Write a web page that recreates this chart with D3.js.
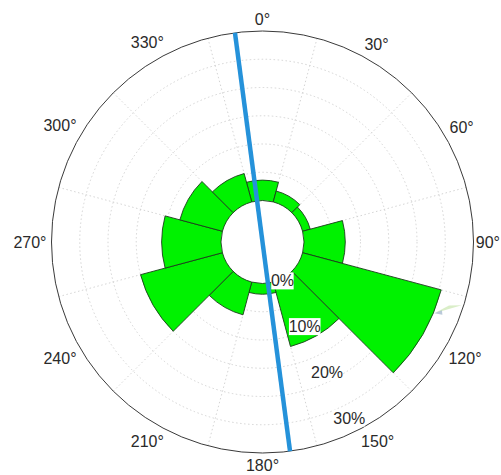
<!DOCTYPE html>
<html>
<head>
<meta charset="utf-8">
<script src="https://cdn.jsdelivr.net/npm/d3@7"></script>
<style>
  html, body { margin: 0; padding: 0; background: #fff; }
  svg { display: block; }
  text { font-family: "Liberation Sans", Arial, Helvetica, sans-serif; }
</style>
</head>
<body>
<div id="chart"></div>
<script>
// ---- data ----
const directions = [0, 30, 60, 90, 120, 150, 180, 210, 240, 270, 300, 330]; // bin centres (deg)
const frequency  = [3.6, 2.0, 1.4, 7.3, 25.4, 11.8, 1.9, 6.0, 15.0, 10.5, 7.8, 5.2]; // percent
const binWidth = 30;
const angleTicks = [0, 30, 60, 90, 120, 150, 180, 210, 240, 270, 300, 330];
const angleTickLabels = ["0°", "30°", "60°", "90°", "120°", "150°", "180°", "210°", "240°", "270°", "300°", "330°"];
const ringValues = [0, 5, 10, 15, 20, 25, 30];
const ringLabelValues = [0, 10, 20, 30];
const ringLabels = ["0%", "10%", "20%", "30%"];
const spokeAngles = [15, 45, 75, 105, 135, 165, 195, 225, 255, 285, 315, 345];
const trendAxis = 352.5; // blue line direction (deg)

// ---- layout ----
const W = 501, H = 475;
const cx = 262.5, cy = 242;
const R = 211, r0 = 41.5;
const rLabelAngle = 154;

const svg = d3.select("#chart").append("svg").attr("width", W).attr("height", H);
const g = svg.append("g").attr("transform", `translate(${cx},${cy})`);

const r = d3.scaleLinear().domain([0, 30]).range([r0, R]);
const rad = d => d * Math.PI / 180;
const pt = (deg, rr) => [rr * Math.sin(rad(deg)), -rr * Math.cos(rad(deg))];

// grid rings (dotted)
g.append("g").selectAll("circle").data(ringValues.filter(v => v > 0 && v < 30)).join("circle")
  .attr("r", d => r(d)).attr("fill", "none")
  .attr("stroke", "#cfcfcf").attr("stroke-width", 0.9).attr("stroke-dasharray", "1.5,2.5");

// spokes (dotted)
g.append("g").selectAll("line").data(spokeAngles).join("line")
  .attr("x1", d => pt(d, r0)[0]).attr("y1", d => pt(d, r0)[1])
  .attr("x2", d => pt(d, R)[0]).attr("y2", d => pt(d, R)[1])
  .attr("stroke", "#cfcfcf").attr("stroke-width", 0.9).attr("stroke-dasharray", "1.5,2.5");

// wedges
const arc = d3.arc()
  .innerRadius(r0)
  .outerRadius(d => r(d.v))
  .startAngle(d => rad(d.a - binWidth / 2))
  .endAngle(d => rad(d.a + binWidth / 2));
g.append("g").selectAll("path")
  .data(directions.map((a, i) => ({ a, v: frequency[i] })))
  .join("path")
  .attr("d", arc)
  .attr("fill", "#00f200")
  .attr("stroke", "#1b3d1b").attr("stroke-width", 0.9).attr("stroke-linejoin", "round");

// faint artefact near the big wedge tip
const art = [[112.5, 186], [107.6, 209], [108.8, 197]].map(p => pt(p[0], p[1]));
g.append("path").attr("d", d3.line()(art) + "Z").attr("fill", "#d6ecc2").attr("opacity", 0.9);
const art2 = [[112.5, 186], [110.8, 192], [112, 194]].map(p => pt(p[0], p[1]));
g.append("path").attr("d", d3.line()(art2) + "Z").attr("fill", "#a9bccf").attr("opacity", 0.8);

// outer circle
g.append("circle").attr("r", R).attr("fill", "none").attr("stroke", "#3a3a3a").attr("stroke-width", 1);

// angle labels: placed so that the text box sits a fixed gap outside the circle
const gap = 5, halfH = 7;
const al = g.append("g").selectAll("text").data(angleTicks).join("text")
  .attr("text-anchor", "middle").attr("dominant-baseline", "central")
  .attr("font-size", 16).attr("fill", "#2a2a2a")
  .text((d, i) => angleTickLabels[i]);
al.each(function(d) {
  const hw = this.getComputedTextLength() / 2;
  const dist = R + gap + Math.abs(Math.sin(rad(d))) * hw + Math.abs(Math.cos(rad(d))) * halfH;
  const p = pt(d, dist);
  const x = Math.min(p[0], W - cx - hw - 1);
  d3.select(this).attr("x", x).attr("y", p[1]);
});

// ring labels with white background
const rl = g.append("g").selectAll("g").data(ringLabelValues).join("g")
  .attr("transform", d => {
    const p = pt(rLabelAngle, r(d * 0.9) + 4);
    return `translate(${p[0]},${p[1] - 2})`;
  });
rl.append("rect").attr("x", (d, i) => -(ringLabels[i].length * 9.2) / 2 - 2)
  .attr("y", -8.5).attr("height", 17)
  .attr("width", (d, i) => ringLabels[i].length * 9.2 + 4)
  .attr("fill", "#fff");
rl.append("text").attr("text-anchor", "middle").attr("dominant-baseline", "central")
  .attr("font-size", 16).attr("fill", "#2a2a2a")
  .text((d, i) => ringLabels[i]);

// trend line
const p1 = pt(trendAxis, R), p2 = pt(trendAxis + 180, R);
g.append("line").attr("x1", p1[0]).attr("y1", p1[1]).attr("x2", p2[0]).attr("y2", p2[1])
  .attr("stroke", "#2592da").attr("stroke-width", 4.5);
</script>
</body>
</html>
